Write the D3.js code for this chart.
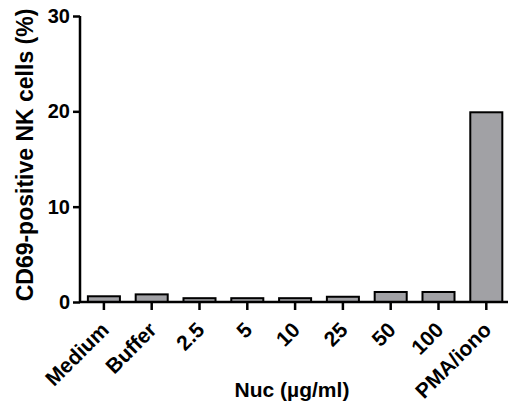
<!DOCTYPE html>
<html>
<head>
<meta charset="utf-8">
<script src="https://cdnjs.cloudflare.com/ajax/libs/d3/7.8.5/d3.min.js"></script>
<style>
  body { margin: 0; background: #fff; }
  svg text { font-family: "Liberation Sans", Arial, sans-serif; font-weight: bold; }
</style>
</head>
<body>
<div id="chart"></div>
<script>
var categories = ["Medium", "Buffer", "2.5", "5", "10", "25", "50", "100", "PMA/iono"];
var values = [0.6, 0.8, 0.4, 0.4, 0.4, 0.55, 1.05, 1.05, 19.9];
var yTicks = [0, 10, 20, 30];

var width = 508, height = 410;
var margin = { top: 16, right: 0, bottom: 108, left: 80 };

var svg = d3.select("#chart")
    .append("svg")
    .attr("width", width)
    .attr("height", height);

var x = d3.scaleBand()
    .domain(categories)
    .range([margin.left, margin.left + 9 * 47.8])
    .paddingInner(0.33)
    .paddingOuter(0.165);

var y = d3.scaleLinear()
    .domain([0, 30])
    .range([height - margin.bottom, margin.top]);

// bars
svg.selectAll(".bar")
    .data(values)
    .enter().append("rect")
      .attr("class", "bar")
      .attr("x", function(d, i) { return x(categories[i]); })
      .attr("width", x.bandwidth())
      .attr("y", function(d) { return y(d); })
      .attr("height", function(d) { return y(0) - y(d); })
      .attr("fill", "#a1a1a5")
      .attr("stroke", "#000")
      .attr("stroke-width", 2);

// y axis
var yAxis = svg.append("g")
    .attr("transform", "translate(" + margin.left + ",0)")
    .call(d3.axisLeft(y).tickValues(yTicks).tickSize(7).tickPadding(3));

yAxis.select(".domain").attr("stroke-width", 2.5).attr("d", "M0," + y(30) + "V" + y(0));
yAxis.selectAll(".tick line").attr("stroke-width", 2.5);
yAxis.selectAll(".tick text").style("font-size", "20px").attr("fill", "#000");

// x axis
var xAxis = svg.append("g")
    .attr("transform", "translate(0," + y(0) + ")")
    .call(d3.axisBottom(x).tickSize(8).tickSizeOuter(0));

xAxis.select(".domain").attr("stroke-width", 2.5)
    .attr("d", "M" + margin.left + ",0H" + width);
xAxis.selectAll(".tick line").attr("stroke-width", 2.5);
xAxis.selectAll(".tick text")
    .style("font-size", "21px")
    .attr("fill", "#000")
    .attr("text-anchor", "end")
    .attr("dy", "0.35em")
    .attr("transform", "translate(1,24) rotate(-45)")
    .attr("y", 0)
    .attr("x", 0);

// axis titles
svg.append("text")
    .attr("transform", "translate(33," + (y(15) - 4) + ") rotate(-90)")
    .attr("text-anchor", "middle")
    .style("font-size", "23px")
    .text("CD69-positive NK cells (%)");

svg.append("text")
    .attr("x", 292)
    .attr("y", 397)
    .attr("text-anchor", "middle")
    .style("font-size", "21px")
    .text("Nuc (µg/ml)");
</script>
</body>
</html>
